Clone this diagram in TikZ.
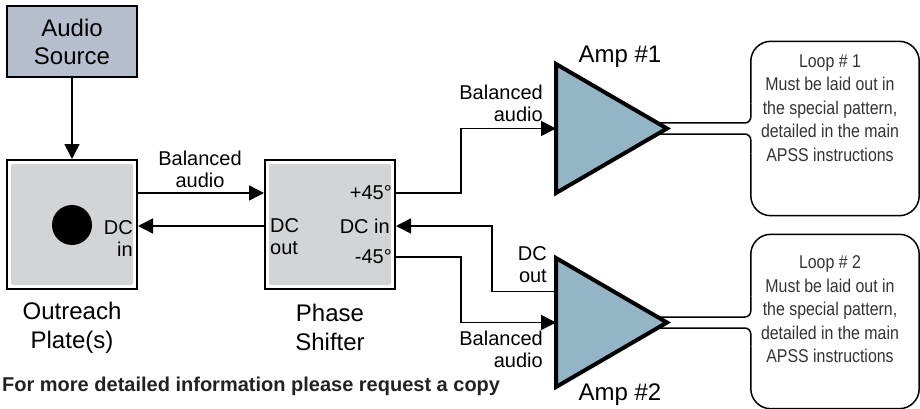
\documentclass[tikz,border=0pt]{standalone}
\usepackage{fontspec}
\setmainfont{Liberation Sans}
\newfontfamily\narrowfont{Liberation Sans}[FakeStretch=0.86]
\usetikzlibrary{arrows.meta,shapes.geometric}
\definecolor{srcfill}{HTML}{B7BFCF}
\definecolor{boxgray}{HTML}{D3D4D6}
\definecolor{ampfill}{HTML}{94B5C5}
\definecolor{looptext}{HTML}{333333}
\definecolor{notetext}{HTML}{222222}
\tikzset{
  big/.style={font=\fontsize{24}{29}\selectfont, align=center},
  port/.style={font=\fontsize{20}{22}\selectfont, inner sep=0pt},
  unit/.style={draw, line width=2pt, minimum width=130pt, minimum height=129pt, inner sep=0pt,
    path picture={\fill[boxgray, rounded corners=2pt] ([shift={(4pt,-4pt)}]path picture bounding box.north west) rectangle ([shift={(-4pt,4pt)}]path picture bounding box.south east);}},
  amp/.style={isosceles triangle, isosceles triangle stretches, draw, line width=4pt, fill=ampfill,
    minimum width=129pt, minimum height=111pt, inner sep=0pt, outer sep=0pt, anchor=west},
  sig/.style={line width=1.5pt, -{Triangle[length=15pt,width=15pt]}},
  lead/.style={line width=1.5pt},
  loopbox/.style={minimum width=168pt, minimum height=174pt, inner sep=0pt},
  looptxt/.style={font=\narrowfont\fontsize{18.5}{23.5}\selectfont, text=looptext, align=center}
}
\begin{document}
\begin{tikzpicture}[x=1pt,y=-1pt]
  \useasboundingbox (0,0) rectangle (920,409);
  \node[draw, line width=1.5pt, fill=srcfill, minimum width=130pt, minimum height=71pt, inner sep=0pt,
    align=center, font=\fontsize{24}{28}\selectfont] (src) at (72,41.5) {Audio\\Source};
  \node[unit] (plate) at (72,224.5) {};
  \node[circle, fill, minimum size=40pt, inner sep=0pt] (hole) at (72,225) {};
  \node[port, anchor=east, align=right] (platedc) at (133,239) {DC\\in};
  \node[unit] (shifter) at (330,224.5) {};
  \node[port, anchor=west, align=left] (shdcout) at (270,237) {DC\\out};
  \node[port, anchor=east] (plus) at (392,193) {+45°};
  \node[port, anchor=east] (shdcin) at (390,226) {DC in};
  \node[port, anchor=east] (minus) at (392,257) {-45°};
  \node[big] (platelbl) at (72,327.5) {Outreach\\Plate(s)};
  \node[big] (shifterlbl) at (330,327.5) {Phase\\Shifter};
  \node[amp] (amp1) at (556,128.5) {};
  \node[amp] (amp2) at (556,322.5) {};
  \node[anchor=base, font=\fontsize{24}{29}\selectfont] (amp1lbl) at (620,63) {Amp \#1};
  \node[anchor=base, font=\fontsize{24}{29}\selectfont] (amp2lbl) at (620,400) {Amp \#2};
  \node[port, align=center] (bal0) at (200,169) {Balanced\\audio};
  \node[port, anchor=east, align=right] (bal1) at (543,103) {Balanced\\audio};
  \node[port, anchor=east, align=right] (dcout2) at (547,265) {DC\\out};
  \node[port, anchor=east, align=right] (bal2) at (543,349) {Balanced\\audio};
  \draw[sig] (src) -- (plate);
  \draw[sig] ([yshift=31.5pt]plate.east) -- ([yshift=31.5pt]shifter.west);
  \draw[sig] ([yshift=-1.5pt]shifter.west) -- ([yshift=-1.5pt]plate.east);
  \draw[sig] ([yshift=31.5pt]shifter.east) -- ++(65,0) |- (amp1.west);
  \draw[sig] ([yshift=31pt]amp2.west) -- ++(-64,0) |- ([yshift=-1.5pt]shifter.east);
  \draw[sig] ([yshift=-32.5pt]shifter.east) -- ++(65,0) |- (amp2.west);
  \foreach \n/\y/\t in {1/128.5/108,2/321.5/309.5}{
    \node[loopbox] (loop\n) at (835,\y) {};
    \node[looptxt] (note\n) at (830,\t) {Loop \# \n\\Must be laid out in\\the special pattern,\\detailed in the main\\APSS instructions};
    \coordinate (hi\n) at ([shift={(-9.5pt,5.5pt)}]amp\n.apex);
    \coordinate (lo\n) at ([shift={(-9.5pt,-5.5pt)}]amp\n.apex);
    \draw[lead, rounded corners=6pt] (hi\n) -- (loop\n.west |- hi\n) -- ([yshift=25pt]loop\n.west);
    \draw[lead, rounded corners=20pt] ([yshift=25pt]loop\n.west) -- (loop\n.north west) -- (loop\n.north east)
      -- (loop\n.south east) -- (loop\n.south west) -- ([yshift=-25pt]loop\n.west);
    \draw[lead, rounded corners=6pt] ([yshift=-25pt]loop\n.west) -- (loop\n.west |- lo\n) -- (lo\n);
  }
  \node[anchor=base west, inner sep=0pt, font=\bfseries\fontsize{20}{24}\selectfont, text=notetext] (footer) at (2,391) {For more detailed information please request a copy};
\end{tikzpicture}
\end{document}
